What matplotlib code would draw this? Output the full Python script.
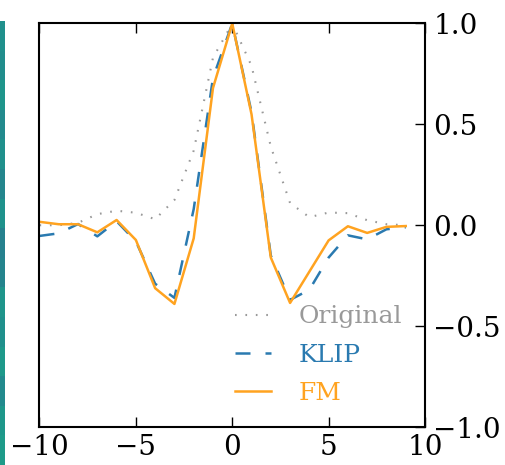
import numpy as np
import matplotlib
matplotlib.use("Agg")
import matplotlib.pyplot as plt

# radial offset (pixels)
x = np.arange(-10, 10)

original = [0.0, 0.0, 0.012, 0.055, 0.072, 0.062, 0.03, 0.125, 0.37, 0.83,
            1.0, 0.79, 0.39, 0.11, 0.04, 0.063, 0.06, 0.025, 0.005, 0.0]
klip = [-0.053, -0.04, 0.006, -0.055, 0.02, -0.08, -0.29, -0.36, 0.08, 0.73,
        1.0, 0.56, -0.15, -0.37, -0.32, -0.16, -0.05, -0.07, -0.02, -0.01]
fm = [0.017, 0.005, 0.005, -0.035, 0.026, -0.073, -0.312, -0.39, -0.065, 0.68,
      1.0, 0.55, -0.16, -0.385, -0.23, -0.075, -0.005, -0.038, -0.008, -0.004]

labels = ["Original", "KLIP", "FM"]
colors = ["#999999", "#2a7ab0", "#ffa320"]

# values for the strip of the neighbouring image panel at the left edge
stripe = [0.5, 0.49, 0.52, 0.48, 0.5, 0.46, 0.51, 0.44, 0.45, 0.52, 0.5, 0.54, 0.48, 0.53, 0.55]

plt.rcParams['font.family'] = 'DejaVu Serif'

fig = plt.figure(figsize=(5.06, 4.65), dpi=100)

# piece of the image next door
sax = fig.add_axes([0, 0, 4.5 / 506, 1 - 21.5 / 465])
sax.imshow(np.array(stripe)[:, None], aspect='auto', cmap='viridis', vmin=0, vmax=1)
sax.axis('off')

ax = fig.add_axes([39.5 / 506, 1 - 427 / 465, 385.5 / 506, 403.5 / 465])

ax.plot(x, original, color=colors[0], lw=1.5, linestyle=(0, (0.8, 4.2)), label=labels[0])
ax.plot(x, klip, color=colors[1], lw=1.8, linestyle=(0, (6, 6)), label=labels[1])
ax.plot(x, fm, color=colors[2], lw=1.8, label=labels[2])

ax.set_xlim(-10, 10)
ax.set_ylim(-1, 1)
ax.set_xticks([-10, -5, 0, 5, 10])
ax.set_yticks([-1.0, -0.5, 0.0, 0.5, 1.0])

ax.yaxis.tick_right()
ax.tick_params(axis='x', direction='in', top=True, bottom=True, length=7, width=1,
               labelsize=20, pad=5)
ax.tick_params(axis='y', direction='in', left=False, right=True, length=7, width=1,
               labelsize=20, pad=6)
for s in ax.spines.values():
    s.set_linewidth(1.5)

leg = ax.legend(loc='lower right', bbox_to_anchor=(0.94, 0.055), frameon=False,
                fontsize=18, handlelength=1.44, handletextpad=1.08, labelspacing=0.61,
                borderpad=0, borderaxespad=0)
for txt, c in zip(leg.get_texts(), colors):
    txt.set_color(c)

fig.savefig("out.png", dpi=100)
